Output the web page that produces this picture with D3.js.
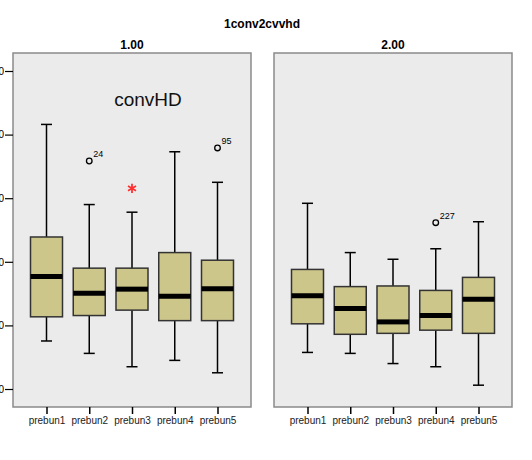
<html>
<head>
<script src="https://d3js.org/d3.v7.min.js"></script>
<style>
  body { margin: 0; background: #fff; }
  text { font-family: "Liberation Sans", Arial, sans-serif; }
</style>
</head>
<body>
<svg width="532" height="460"></svg>
<script>
var groups = ["1.00", "2.00"];
var categories = ["prebun1", "prebun2", "prebun3", "prebun4", "prebun5"];
var yTicks = [0, 20, 40, 60, 80, 100];

// [low whisker, q1, median, q3, high whisker] per category
var stats1 = [
  [15.1, 22.7, 35.4, 47.8, 83.2],
  [11.2, 23.1, 30.1, 38.0, 58.0],
  [7.0, 24.8, 31.4, 38.0, 55.6],
  [9.0, 21.5, 29.2, 42.9, 74.6],
  [5.1, 21.5, 31.5, 40.5, 65.0]
];
var stats2 = [
  [11.5, 20.5, 29.3, 37.6, 58.4],
  [11.2, 17.2, 25.3, 32.2, 42.9],
  [8.0, 17.5, 21.1, 32.4, 40.8],
  [7.0, 18.5, 23.1, 31.0, 44.1],
  [1.2, 17.5, 28.2, 35.1, 52.6]
];
// outliers: [category, value, case label, extreme?]
var outliers1 = [["prebun2", 71.7, "24", false], ["prebun3", 63.1, "", true], ["prebun5", 75.8, "95", false]];
var outliers2 = [["prebun4", 52.3, "227", false]];

var svg = d3.select("svg");
var panelTop = 53, panelBottom = 407;
var panels = [
  {x0: 13, x1: 251, stats: stats1, outliers: outliers1, label: groups[0], axis: true},
  {x0: 274, x1: 512, stats: stats2, outliers: outliers2, label: groups[1], axis: false}
];

var yScale = d3.scaleLinear().domain([0, 100]).range([389, 71]);

svg.append("text").attr("x", 262).attr("y", 28).attr("text-anchor", "middle")
  .attr("font-size", 12).attr("font-weight", "bold").text("1conv2cvvhd");

panels.forEach(function(p) {
  var xScale = d3.scalePoint().domain(categories).range([p.x0 + 33.5, p.x1 - 33.5]);
  var g = svg.append("g");

  g.append("rect").attr("x", p.x0).attr("y", panelTop)
    .attr("width", p.x1 - p.x0).attr("height", panelBottom - panelTop)
    .attr("fill", "#ebebeb").attr("stroke", "#8a8a8a").attr("stroke-width", 1.5);

  g.append("text").attr("x", (p.x0 + p.x1) / 2).attr("y", 49).attr("text-anchor", "middle")
    .attr("font-size", 12).attr("font-weight", "bold").text(p.label);

  if (p.axis) {
    var ya = g.append("g").attr("transform", "translate(" + p.x0 + ",0)")
      .call(d3.axisLeft(yScale).tickValues(yTicks).tickSize(8).tickSizeOuter(0)
        .tickFormat(function(d) { return d; }));
    ya.select(".domain").remove();
    ya.selectAll("line").attr("stroke", "#000").attr("stroke-width", 1.2);
    ya.selectAll("text").attr("x", -9).attr("font-size", 10).attr("fill", "#000");
  }

  var xa = g.append("g").attr("transform", "translate(0," + panelBottom + ")")
    .call(d3.axisBottom(xScale).tickSize(7).tickSizeOuter(0));
  xa.select(".domain").remove();
  xa.selectAll("line").attr("stroke", "#000").attr("stroke-width", 1.5);
  xa.selectAll("text").attr("y", 10).attr("font-size", 10).attr("fill", "#222")
    .attr("font-family", "'Liberation Sans', Arial, sans-serif");

  var bw = 32, cap = 11;
  categories.forEach(function(c, i) {
    var s = p.stats[i], cx = xScale(c);
    g.append("line").attr("x1", cx).attr("x2", cx)
      .attr("y1", yScale(s[0])).attr("y2", yScale(s[4]))
      .attr("stroke", "#000").attr("stroke-width", 1.5);
    [s[0], s[4]].forEach(function(v) {
      g.append("line").attr("x1", cx - cap / 2).attr("x2", cx + cap / 2)
        .attr("y1", yScale(v)).attr("y2", yScale(v))
        .attr("stroke", "#000").attr("stroke-width", 1.5);
    });
    g.append("rect").attr("x", cx - bw / 2).attr("y", yScale(s[3]))
      .attr("width", bw).attr("height", yScale(s[1]) - yScale(s[3]))
      .attr("fill", "#cdc68b").attr("stroke", "#333").attr("stroke-width", 1.5);
    g.append("line").attr("x1", cx - bw / 2).attr("x2", cx + bw / 2)
      .attr("y1", yScale(s[2])).attr("y2", yScale(s[2]))
      .attr("stroke", "#000").attr("stroke-width", 5);
  });

  p.outliers.forEach(function(o) {
    var cx = xScale(o[0]), cy = yScale(o[1]);
    if (o[3]) {
      g.append("path").attr("d", d3.symbol(d3.symbolAsterisk, 60)())
        .attr("transform", "translate(" + cx + "," + cy + ")")
        .attr("fill", "none").attr("stroke", "#ff3030").attr("stroke-width", 1.8);
    } else {
      g.append("circle").attr("cx", cx).attr("cy", cy).attr("r", 2.8)
        .attr("fill", "none").attr("stroke", "#000").attr("stroke-width", 1.3);
      g.append("text").attr("x", cx + 4).attr("y", cy - 4)
        .attr("font-size", 9).attr("fill", "#000").text(o[2]);
    }
  });
});

svg.append("text").attr("x", 148).attr("y", 106).attr("text-anchor", "middle")
  .attr("font-size", 19).attr("fill", "#111").text("convHD");
</script>
</body>
</html>
